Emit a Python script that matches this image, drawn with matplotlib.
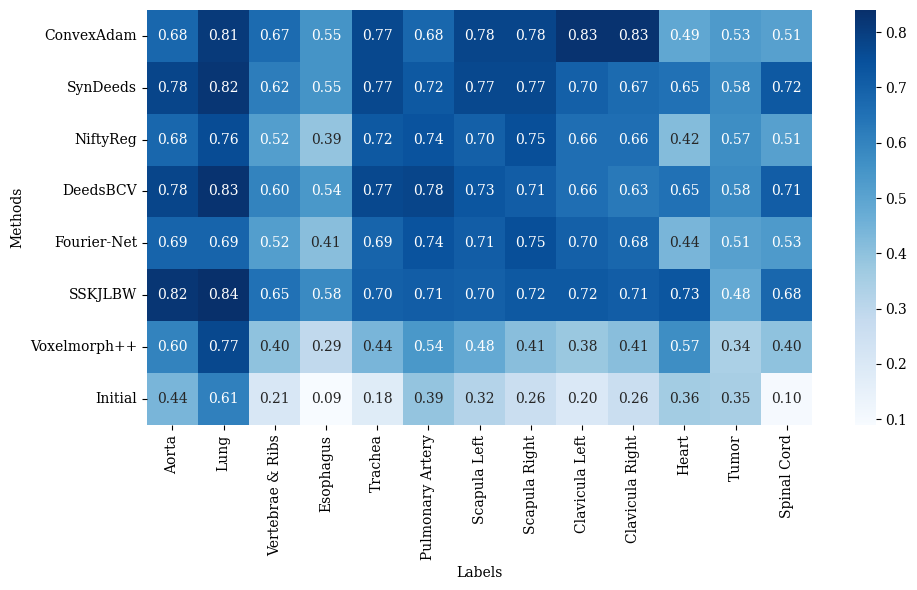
import matplotlib
matplotlib.use("Agg")
import matplotlib.pyplot as plt
import numpy as np
import pandas as pd
import seaborn as sns

methods = ["ConvexAdam", "SynDeeds", "NiftyReg", "DeedsBCV", "Fourier-Net",
           "SSKJLBW", "Voxelmorph++", "Initial"]
labels = ["Aorta", "Lung", "Vertebrae & Ribs", "Esophagus", "Trachea",
          "Pulmonary Artery", "Scapula Left", "Scapula Right", "Clavicula Left",
          "Clavicula Right", "Heart", "Tumor", "Spinal Cord"]

convexadam = [0.68, 0.81, 0.67, 0.55, 0.77, 0.68, 0.78, 0.78, 0.83, 0.83, 0.49, 0.53, 0.51]
syndeeds = [0.78, 0.82, 0.62, 0.55, 0.77, 0.72, 0.77, 0.77, 0.70, 0.67, 0.65, 0.58, 0.72]
niftyreg = [0.68, 0.76, 0.52, 0.39, 0.72, 0.74, 0.70, 0.75, 0.66, 0.66, 0.42, 0.57, 0.51]
deedsbcv = [0.78, 0.83, 0.60, 0.54, 0.77, 0.78, 0.73, 0.71, 0.66, 0.63, 0.65, 0.58, 0.71]
fouriernet = [0.69, 0.69, 0.52, 0.41, 0.69, 0.74, 0.71, 0.75, 0.70, 0.68, 0.44, 0.51, 0.53]
sskjlbw = [0.82, 0.84, 0.65, 0.58, 0.70, 0.71, 0.70, 0.72, 0.72, 0.71, 0.73, 0.48, 0.68]
voxelmorph = [0.60, 0.77, 0.40, 0.29, 0.44, 0.54, 0.48, 0.41, 0.38, 0.41, 0.57, 0.34, 0.40]
initial = [0.44, 0.61, 0.21, 0.09, 0.18, 0.39, 0.32, 0.26, 0.20, 0.26, 0.36, 0.35, 0.10]

df = pd.DataFrame([convexadam, syndeeds, niftyreg, deedsbcv, fouriernet,
                   sskjlbw, voxelmorph, initial], index=methods, columns=labels)

plt.rcParams["font.family"] = ["DejaVu Serif"]

fig = plt.figure(figsize=(9.17, 5.9), dpi=100)
ax = fig.add_axes([0.160, 0.280, 0.726, 0.703])
cax = fig.add_axes([0.932, 0.280, 0.023, 0.703])

sns.heatmap(df, annot=True, fmt=".2f", cmap="Blues", ax=ax, cbar_ax=cax,
            annot_kws={"fontsize": 10})
ax.set_xlabel("Labels")
ax.set_ylabel("Methods")
ax.tick_params(axis="x", rotation=90)
ax.tick_params(axis="y", rotation=0)

fig.savefig("out.png", dpi=100)
